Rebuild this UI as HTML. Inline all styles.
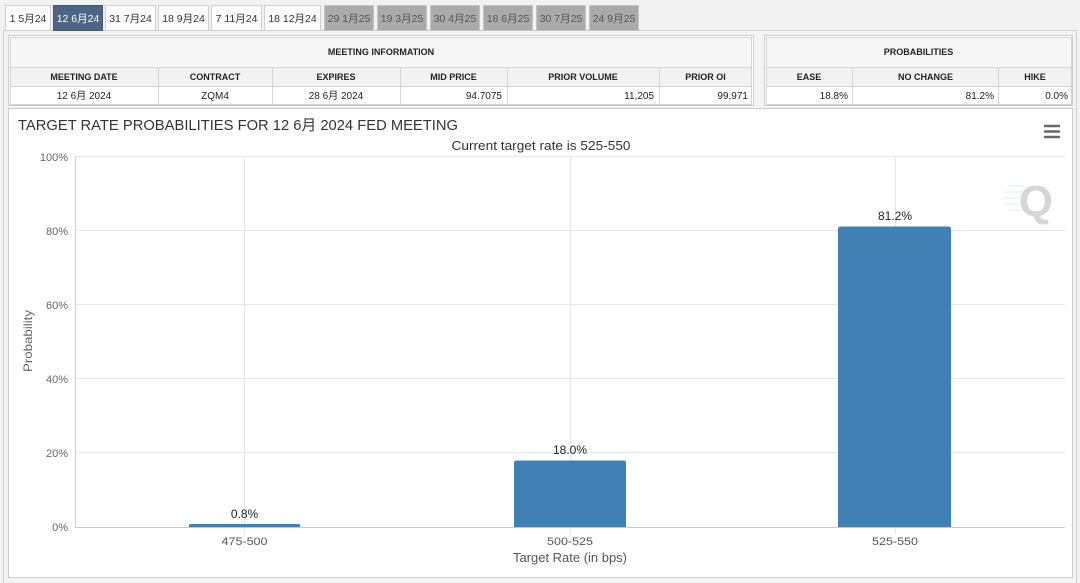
<!DOCTYPE html>
<html><head><meta charset="utf-8"><style>
html,body{margin:0;padding:0;background:#f2f2f2;}
svg{display:block;}
</style></head><body>
<svg width="1080" height="583" viewBox="0 0 1080 583" xmlns="http://www.w3.org/2000/svg" font-family="'Liberation Sans','Noto Sans CJK SC',Arial,sans-serif">
<rect x="0" y="0" width="1080" height="583" fill="#f2f2f2"/>
<!-- panel frame -->
<rect x="3.5" y="30.5" width="1073" height="560" fill="#f3f3f3" stroke="#d0d0d0"/>

<!-- tabs -->
<g font-size="10.5" text-anchor="middle" fill="#333">
<rect x="5.5" y="5.5" width="45" height="25" fill="#fcfcfc" stroke="#cfcfcf"/><text x="28" y="22">1 5月24</text>
<rect x="53.5" y="5.5" width="49" height="25" fill="#4e6686" stroke="#3f5674"/><text x="78" y="22" fill="#fff">12 6月24</text>
<rect x="105.5" y="5.5" width="50" height="25" fill="#fcfcfc" stroke="#cfcfcf"/><text x="130.5" y="22">31 7月24</text>
<rect x="158.5" y="5.5" width="50" height="25" fill="#fcfcfc" stroke="#cfcfcf"/><text x="183.5" y="22">18 9月24</text>
<rect x="211.5" y="5.5" width="50" height="25" fill="#fcfcfc" stroke="#cfcfcf"/><text x="236.5" y="22">7 11月24</text>
<rect x="264.5" y="5.5" width="56" height="25" fill="#fcfcfc" stroke="#cfcfcf"/><text x="292.5" y="22">18 12月24</text>
<g fill="#555">
<rect x="324.5" y="5.5" width="49" height="25" fill="#aaaaaa" stroke="#c4c4c4"/><text x="349" y="22">29 1月25</text>
<rect x="377.5" y="5.5" width="49" height="25" fill="#aaaaaa" stroke="#c4c4c4"/><text x="402" y="22">19 3月25</text>
<rect x="430.5" y="5.5" width="49" height="25" fill="#aaaaaa" stroke="#c4c4c4"/><text x="455" y="22">30 4月25</text>
<rect x="483.5" y="5.5" width="49" height="25" fill="#aaaaaa" stroke="#c4c4c4"/><text x="508" y="22">18 6月25</text>
<rect x="536.5" y="5.5" width="49" height="25" fill="#aaaaaa" stroke="#c4c4c4"/><text x="561" y="22">30 7月25</text>
<rect x="589.5" y="5.5" width="49" height="25" fill="#aaaaaa" stroke="#c4c4c4"/><text x="614" y="22">24 9月25</text>
</g>
</g>

<!-- meeting information table -->
<g stroke="#d4d4d4" fill="none">
<rect x="8.5" y="35.5" width="745" height="70" fill="#fff" stroke="#cccccc"/>
<rect x="10.5" y="37.5" width="741" height="30" fill="#f6f6f6"/>
<rect x="10.5" y="67.5" width="741" height="19" fill="#f2f2f2"/>
<rect x="10.5" y="86.5" width="741" height="18" fill="#fff"/>
<line x1="158.5" y1="67.5" x2="158.5" y2="104.5"/>
<line x1="272.5" y1="67.5" x2="272.5" y2="104.5"/>
<line x1="400.5" y1="67.5" x2="400.5" y2="104.5"/>
<line x1="507.5" y1="67.5" x2="507.5" y2="104.5"/>
<line x1="659.5" y1="67.5" x2="659.5" y2="104.5"/>
</g>
<g font-size="9" font-weight="bold" text-anchor="middle" fill="#222">
<text x="381" y="55">MEETING INFORMATION</text>
<text x="84" y="80">MEETING DATE</text>
<text x="215" y="80">CONTRACT</text>
<text x="336" y="80">EXPIRES</text>
<text x="453.5" y="80">MID PRICE</text>
<text x="583" y="80">PRIOR VOLUME</text>
<text x="705.5" y="80">PRIOR OI</text>
</g>
<g font-size="10" fill="#222">
<text x="84" y="99" text-anchor="middle">12 6月 2024</text>
<text x="215" y="99" text-anchor="middle">ZQM4</text>
<text x="336" y="99" text-anchor="middle">28 6月 2024</text>
<text x="502" y="99" text-anchor="end">94.7075</text>
<text x="654" y="99" text-anchor="end">11,205</text>
<text x="748" y="99" text-anchor="end">99,971</text>
</g>

<!-- probabilities table -->
<g stroke="#d4d4d4" fill="none">
<rect x="764.5" y="35.5" width="308" height="70" fill="#fff" stroke="#cccccc"/>
<rect x="766.5" y="37.5" width="305" height="30" fill="#f6f6f6"/>
<rect x="766.5" y="67.5" width="305" height="19" fill="#f2f2f2"/>
<rect x="766.5" y="86.5" width="305" height="18" fill="#fff"/>
<line x1="852.5" y1="67.5" x2="852.5" y2="104.5"/>
<line x1="998.5" y1="67.5" x2="998.5" y2="104.5"/>
</g>
<g font-size="9" font-weight="bold" text-anchor="middle" fill="#222">
<text x="918.5" y="55">PROBABILITIES</text>
<text x="809" y="80">EASE</text>
<text x="925.5" y="80">NO CHANGE</text>
<text x="1035" y="80">HIKE</text>
</g>
<g font-size="10" fill="#222" text-anchor="end">
<text x="848" y="99">18.8%</text>
<text x="994" y="99">81.2%</text>
<text x="1068" y="99">0.0%</text>
</g>

<!-- chart box -->
<rect x="8.5" y="108.5" width="1064" height="469" fill="#fff" stroke="#cccccc"/>

<text x="18" y="130" font-size="15" fill="#333" textLength="440" lengthAdjust="spacingAndGlyphs">TARGET RATE PROBABILITIES FOR 12 6月 2024 FED MEETING</text>
<text x="541" y="150" font-size="12.5" fill="#333" text-anchor="middle" textLength="179" lengthAdjust="spacingAndGlyphs">Current target rate is 525-550</text>

<!-- hamburger -->
<g stroke="#666" stroke-width="2.4" stroke-linecap="round">
<line x1="1045" y1="126" x2="1059" y2="126"/>
<line x1="1045" y1="131.5" x2="1059" y2="131.5"/>
<line x1="1045" y1="137" x2="1059" y2="137"/>
</g>

<!-- watermark Q -->
<g stroke="#e6eee6" stroke-width="1">
<line x1="1008" y1="186" x2="1024" y2="186"/>
<line x1="1004" y1="192" x2="1022" y2="192"/>
<line x1="1002" y1="198" x2="1021" y2="198"/>
<line x1="1004" y1="204" x2="1022" y2="204"/>
<line x1="1008" y1="210" x2="1024" y2="210"/>
</g>
<text x="1036" y="216" font-size="44" font-weight="bold" fill="#d6d6d6" text-anchor="middle">Q</text>

<!-- gridlines -->
<g stroke="#e6e6e6" stroke-width="1">
<line x1="76" y1="156.5" x2="1065" y2="156.5"/>
<line x1="76" y1="230.5" x2="1065" y2="230.5"/>
<line x1="76" y1="304.5" x2="1065" y2="304.5"/>
<line x1="76" y1="378.5" x2="1065" y2="378.5"/>
<line x1="76" y1="452.5" x2="1065" y2="452.5"/>
<line x1="244.5" y1="156" x2="244.5" y2="534"/>
<line x1="570.5" y1="156" x2="570.5" y2="534"/>
<line x1="895.5" y1="156" x2="895.5" y2="534"/>
</g>
<line x1="75.5" y1="156" x2="75.5" y2="527" stroke="#cccccc"/>
<line x1="75" y1="527.5" x2="1065" y2="527.5" stroke="#c8c8c8"/>

<!-- y labels -->
<g font-size="11" fill="#666" text-anchor="end">
<text x="68" y="161">100%</text>
<text x="68" y="235">80%</text>
<text x="68" y="309">60%</text>
<text x="68" y="383">40%</text>
<text x="68" y="457">20%</text>
<text x="68" y="531">0%</text>
</g>
<text transform="translate(32,341) rotate(-90)" font-size="12" fill="#666" text-anchor="middle" textLength="62" lengthAdjust="spacingAndGlyphs">Probability</text>

<!-- bars -->
<g fill="#4180b4">
<path d="M189,527 L189,525 Q189,524 191,524 L298,524 Q300,524 300,525 L300,527 Z"/>
<path d="M514,527 L514,463 Q514,460.5 516.5,460.5 L623.5,460.5 Q626,460.5 626,463 L626,527 Z"/>
<path d="M838,527 L838,229 Q838,226.5 840.5,226.5 L948.5,226.5 Q951,226.5 951,229 L951,527 Z"/>
</g>

<!-- data labels -->
<g font-size="12" fill="#222" text-anchor="middle">
<text x="244.5" y="518">0.8%</text>
<text x="570" y="454">18.0%</text>
<text x="895" y="220">81.2%</text>
</g>

<!-- x labels -->
<g font-size="11" fill="#555" text-anchor="middle">
<text x="244.5" y="545" textLength="46" lengthAdjust="spacingAndGlyphs">475-500</text>
<text x="570" y="545" textLength="46" lengthAdjust="spacingAndGlyphs">500-525</text>
<text x="895" y="545" textLength="46" lengthAdjust="spacingAndGlyphs">525-550</text>
</g>
<text x="570" y="562" font-size="12.5" fill="#555" text-anchor="middle" textLength="114" lengthAdjust="spacingAndGlyphs">Target Rate (in bps)</text>
</svg>
</body></html>
